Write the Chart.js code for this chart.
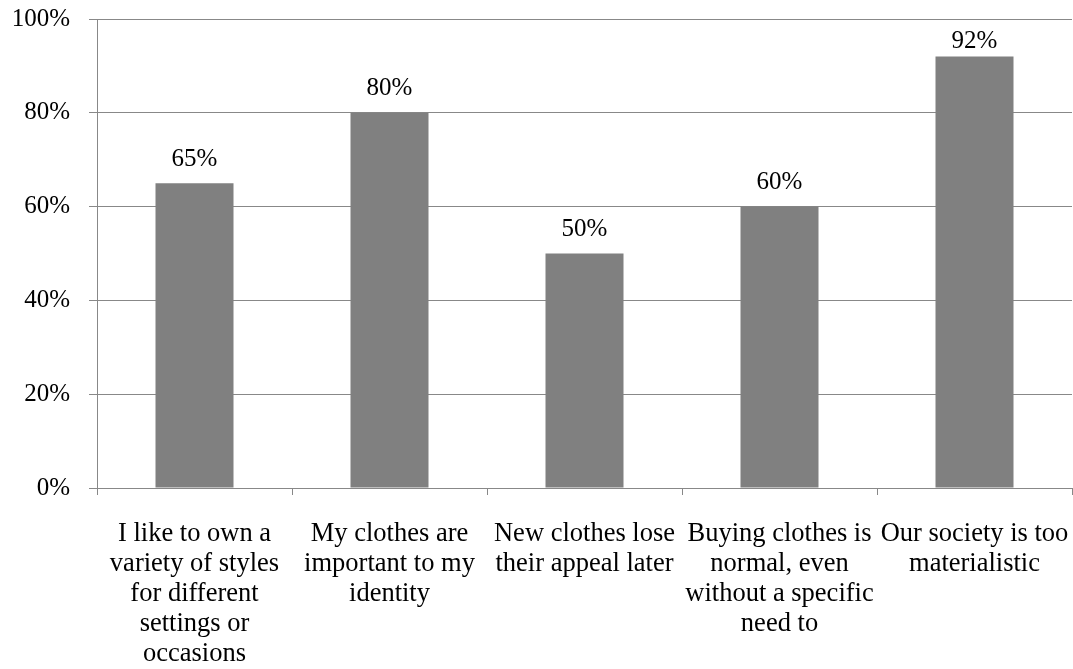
<!DOCTYPE html>
<html>
<head>
<meta charset="utf-8">
<script src="https://cdn.jsdelivr.net/npm/chart.js@4/dist/chart.umd.min.js"></script>
<style>
    html, body { margin: 0; padding: 0; background: #fff; }
    #wrap { width: 1073px; height: 669px; }
</style>
</head>
<body>
<div id="wrap"><canvas id="chart"></canvas></div>
<script>
// Survey statements, wrapped the same way as the original axis labels.
const CATEGORIES = [
    ["I like to own a", "variety of styles", "for different", "settings or", "occasions"],
    ["My clothes are", "important to my", "identity"],
    ["New clothes lose", "their appeal later"],
    ["Buying clothes is", "normal, even", "without a specific", "need to"],
    ["Our society is too", "materialistic"],
];
const AGREE_PCT = [65, 80, 50, 60, 92];
const Y_TICKS = [0, 20, 40, 60, 80, 100];

const FONT = "'Liberation Serif', 'Times New Roman', serif";
const GRID = "#888888";

// Writes the percentage above each bar, kept inside the plot area
// (a tall bar pushes its label down against the top edge).
const valueLabels = {
    id: "valueLabels",
    afterDatasetsDraw(chart) {
        const ctx = chart.ctx;
        const meta = chart.getDatasetMeta(0);
        const minY = chart.chartArea.top + 22;
        ctx.save();
        ctx.font = "25px " + FONT;
        ctx.fillStyle = "#000";
        ctx.textAlign = "center";
        ctx.textBaseline = "middle";
        meta.data.forEach((bar, i) => {
            const { x, y } = bar.getProps(["x", "y"], true);
            ctx.fillText(AGREE_PCT[i] + "%", x, Math.max(y - 24, minY));
        });
        ctx.restore();
    },
};

new Chart(document.getElementById("chart"), {
    type: "bar",
    data: {
        labels: CATEGORIES,
        datasets: [{
            data: AGREE_PCT,
            backgroundColor: "#808080",
            borderWidth: 0,
            categoryPercentage: 1,
            barPercentage: 0.4,
        }],
    },
    options: {
        responsive: true,
        maintainAspectRatio: false,
        animation: false,
        layout: { padding: { top: 19, right: 1, left: 0, bottom: 0 } },
        plugins: { legend: { display: false }, tooltip: { enabled: false } },
        scales: {
            x: {
                grid: {
                    offset: true,
                    drawOnChartArea: false,
                    drawTicks: true,
                    tickLength: 7,
                    color: GRID,
                },
                border: { color: GRID, width: 1 },
                ticks: {
                    color: "#000",
                    padding: 24,
                    maxRotation: 0,
                    autoSkip: false,
                    font: { family: FONT, size: 26.5, lineHeight: "30px" },
                },
                afterFit(scale) {
                    scale.height = 181;
                    scale.paddingLeft = 0;
                    scale.paddingRight = 0;
                },
            },
            y: {
                min: 0,
                max: 100,
                afterBuildTicks(scale) {
                    scale.ticks = Y_TICKS.map(v => ({ value: v }));
                },
                grid: { color: GRID, tickLength: 8, drawTicks: true },
                border: { color: GRID, width: 1 },
                ticks: {
                    color: "#000",
                    padding: 19,
                    callback: v => v + "%",
                    font: { family: FONT, size: 25 },
                },
                afterFit(scale) {
                    scale.width = 97;
                    scale.paddingTop = 0;
                    scale.paddingBottom = 0;
                },
            },
        },
    },
    plugins: [valueLabels],
});
</script>
</body>
</html>
